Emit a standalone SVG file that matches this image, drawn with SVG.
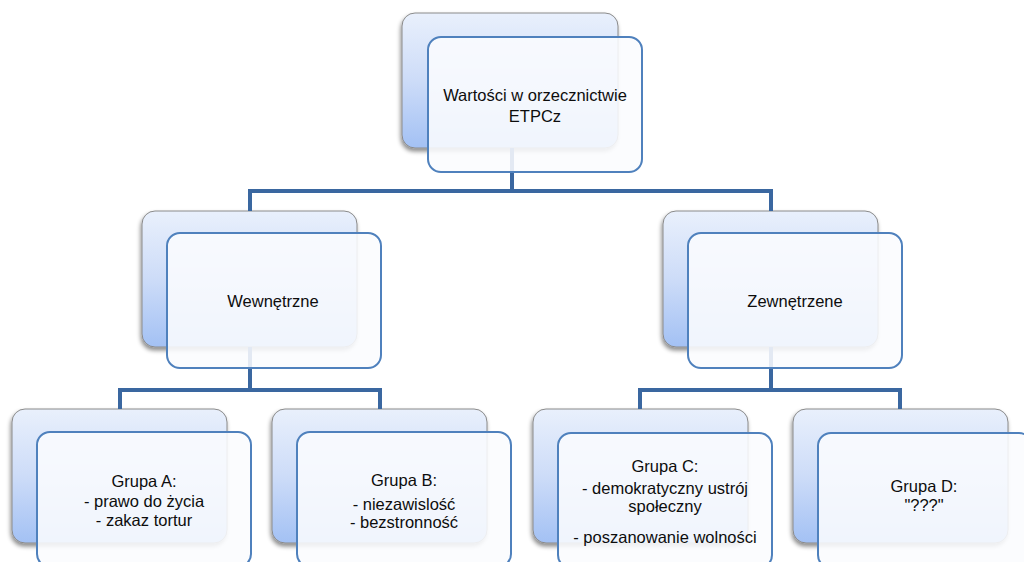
<svg xmlns="http://www.w3.org/2000/svg" width="1024" height="562" viewBox="0 0 1024 562">
<defs>
<linearGradient id="backGrad" x1="0" y1="0" x2="0" y2="1">
<stop offset="0" stop-color="#e9f0fc"/>
<stop offset="0.5" stop-color="#cddcf8"/>
<stop offset="1" stop-color="#a3c1f4"/>
</linearGradient>
<filter id="shadow" x="-10%" y="-10%" width="120%" height="130%">
<feDropShadow dx="-1" dy="3" stdDeviation="2" flood-color="#000" flood-opacity="0.45"/>
</filter>
</defs>
<style>
.back{fill:url(#backGrad);stroke:#8a8a8a;stroke-width:1;filter:url(#shadow)}
.front{fill:#fbfcfe;fill-opacity:0.88;stroke:#4f81bd;stroke-width:2}
.conn{fill:none;stroke:#3a67a0;stroke-width:4}
text{font-family:"Liberation Sans",Arial,sans-serif;font-size:16.5px;fill:#0d0d0d;text-anchor:middle}
</style>
<rect width="1024" height="562" fill="#ffffff"/>

<g id="backs">
<rect class="back" x="402" y="13" width="216" height="135" rx="13"/>
<rect class="back" x="142" y="211" width="215" height="136" rx="13"/>
<rect class="back" x="663" y="211" width="215" height="136" rx="13"/>
<rect class="back" x="12" y="409" width="215" height="134" rx="13"/>
<rect class="back" x="272" y="409" width="215" height="134" rx="13"/>
<rect class="back" x="533" y="409" width="215" height="134" rx="13"/>
<rect class="back" x="793" y="409" width="215" height="134" rx="13"/>
</g>

<g id="connectors">
<path class="conn" d="M512 148 V191 M250 191 H771 M250 189 V211 M771 189 V211"/>
<path class="conn" d="M250 347 V390 M120 390 H380 M120 388 V409 M380 388 V409"/>
<path class="conn" d="M771 347 V390 M640 390 H900 M640 388 V409 M900 388 V409"/>
</g>

<g id="node-root">
<rect class="front" x="428" y="37" width="214" height="135" rx="13"/>
<text x="535" y="101">Wartości w orzecznictwie</text>
<text x="535" y="122">ETPCz</text>
</g>

<g id="node-wewnetrzne">
<rect class="front" x="167" y="233" width="214" height="135" rx="13"/>
<text x="273" y="307">Wewnętrzne</text>
</g>

<g id="node-zewnetrzene">
<rect class="front" x="688" y="233" width="214" height="135" rx="13"/>
<text x="795" y="307">Zewnętrzene</text>
</g>

<g id="node-grupa-a">
<rect class="front" x="37" y="432" width="214" height="135" rx="13"/>
<text x="144" y="487">Grupa A:</text>
<text x="144" y="507">- prawo do życia</text>
<text x="144" y="526">- zakaz tortur</text>
</g>

<g id="node-grupa-b">
<rect class="front" x="297" y="432" width="214" height="135" rx="13"/>
<text x="404" y="486">Grupa B:</text>
<text x="404" y="510">- niezawislość</text>
<text x="404" y="528">- bezstronność</text>
</g>

<g id="node-grupa-c">
<rect class="front" x="558" y="433" width="214" height="135" rx="13"/>
<text x="665" y="472">Grupa C:</text>
<text x="665" y="494">- demokratyczny ustrój</text>
<text x="665" y="512">społeczny</text>
<text x="665" y="543">- poszanowanie wolności</text>
</g>

<g id="node-grupa-d">
<rect class="front" x="818" y="433" width="214" height="135" rx="13"/>
<text x="924" y="492">Grupa D:</text>
<text x="924" y="511">"???"</text>
</g>
</svg>
